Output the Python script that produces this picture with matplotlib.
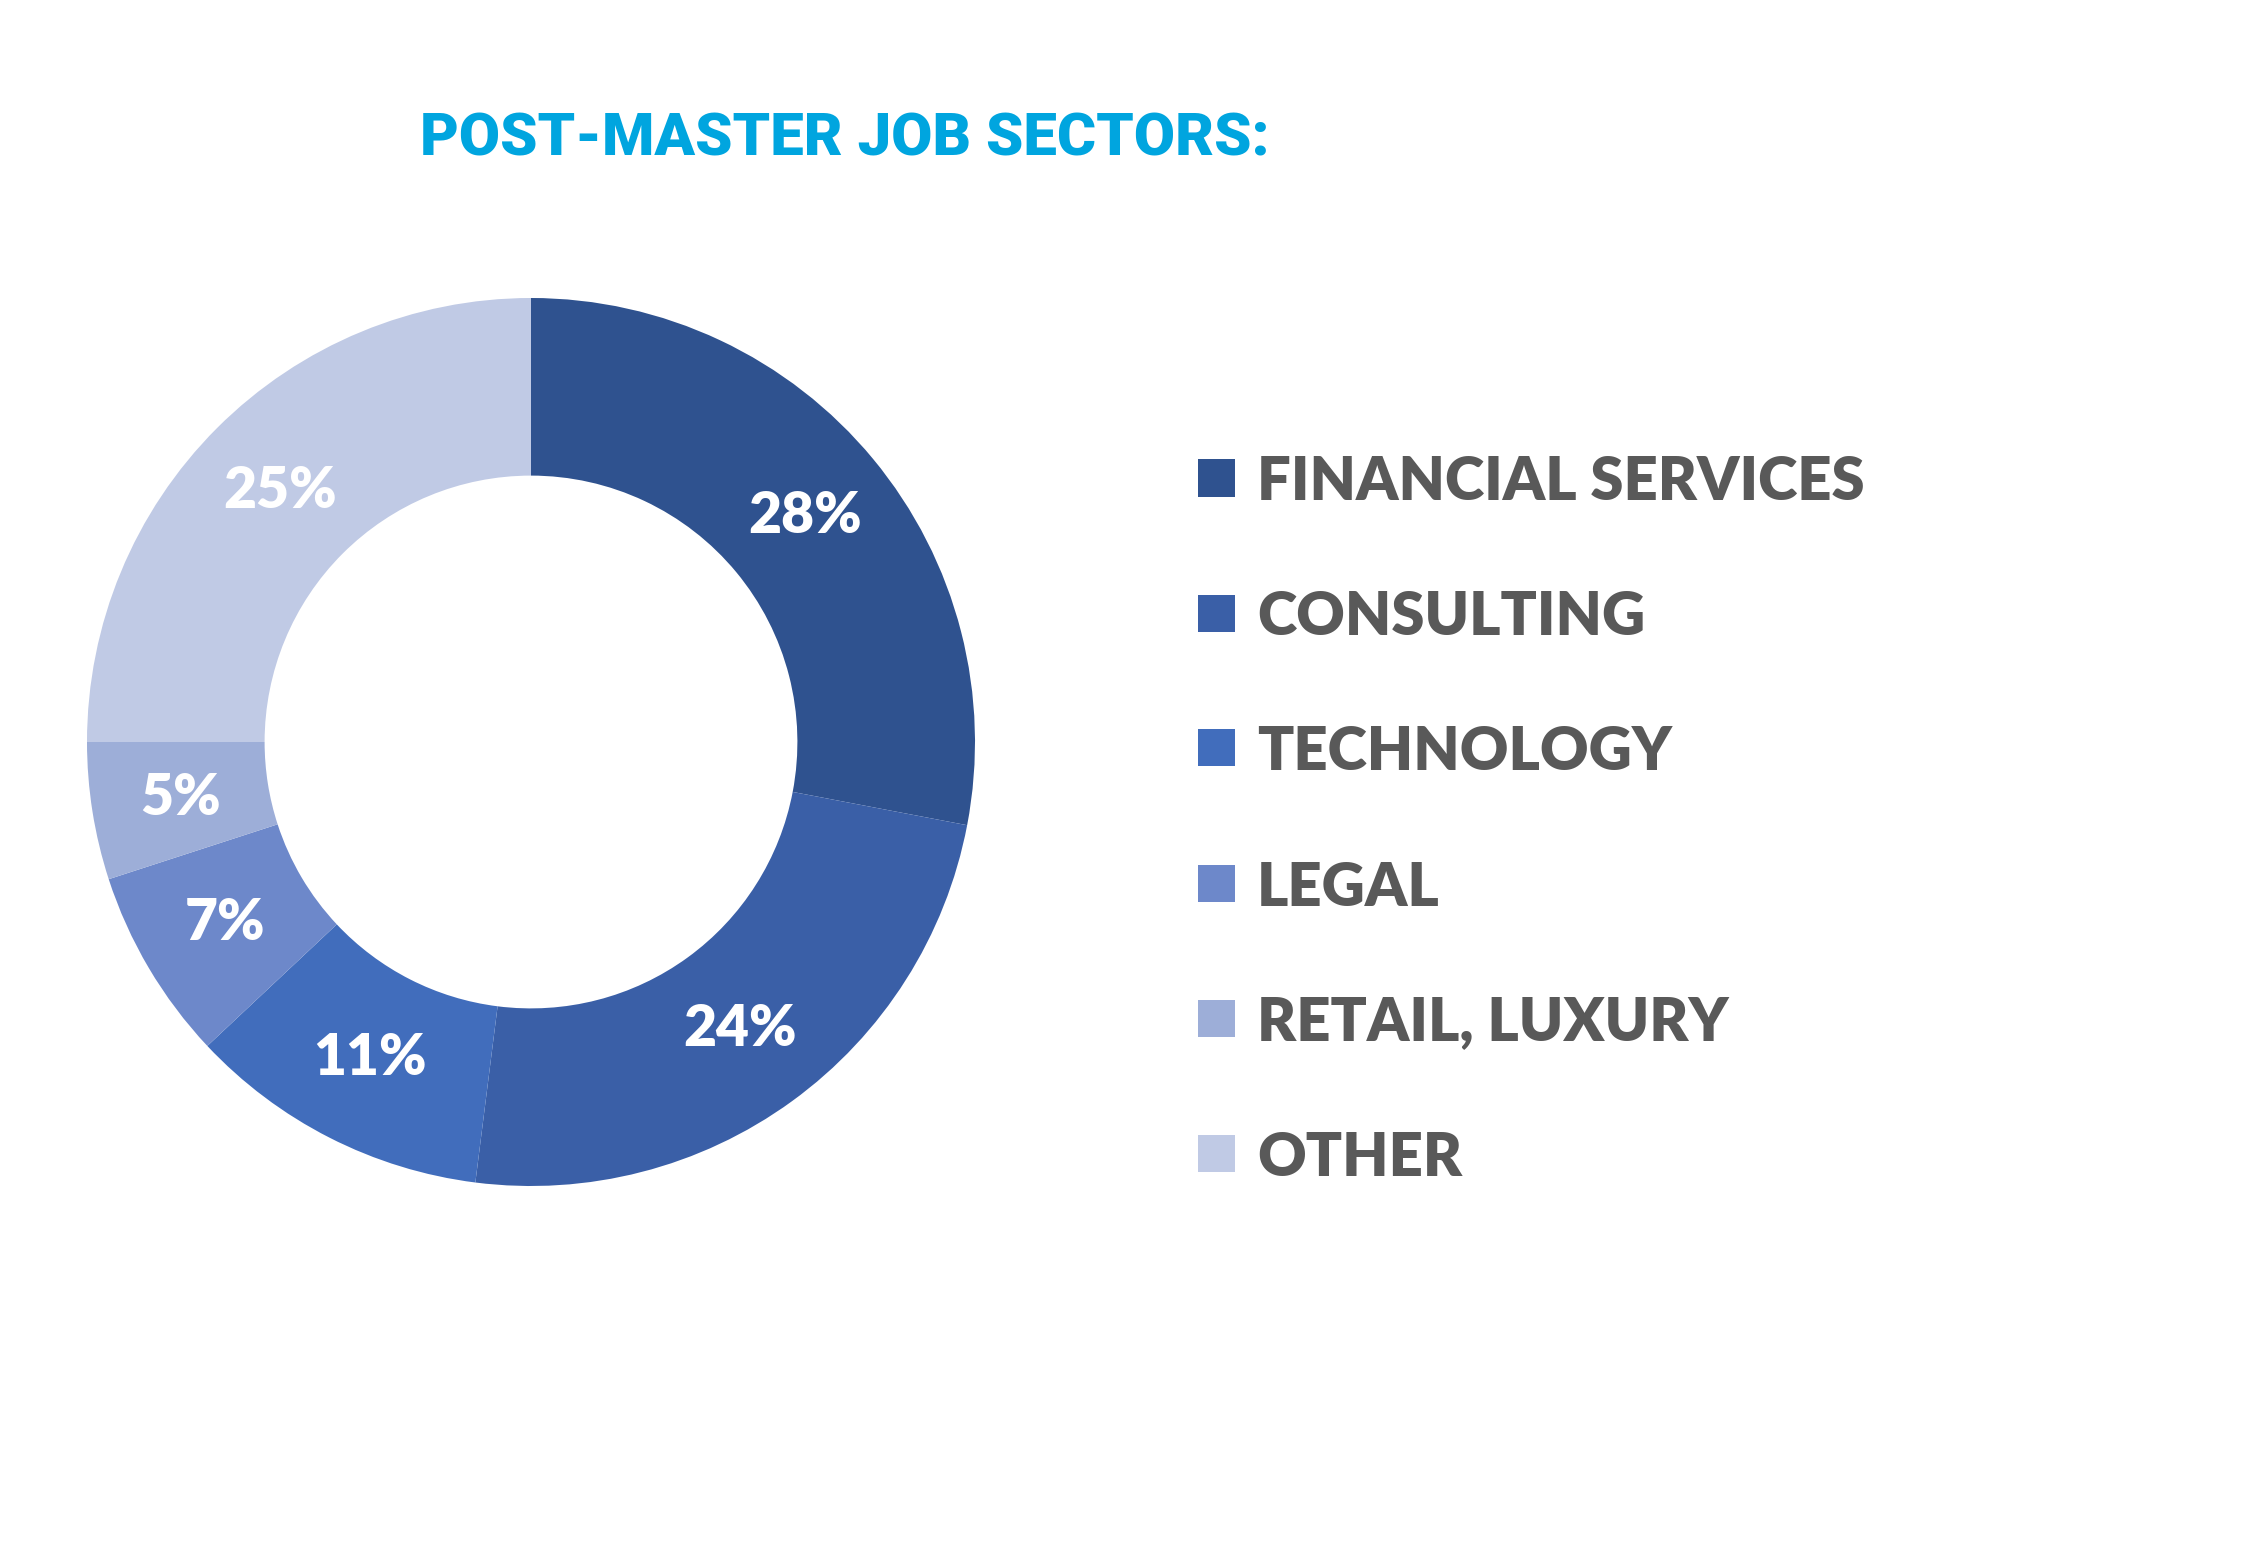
import matplotlib
matplotlib.use("Agg")
import matplotlib.pyplot as plt
from matplotlib.patches import Rectangle

# data
sectors = ["FINANCIAL SERVICES", "CONSULTING", "TECHNOLOGY", "LEGAL",
           "RETAIL, LUXURY", "OTHER"]
shares = [28, 24, 11, 7, 5, 25]
colors = ["#2F528F", "#3A5FA7", "#416DBC", "#6D88CA", "#9DAED8", "#C0CAE5"]
title = "POST-MASTER JOB SECTORS:"

W, H = 2250, 1558
fig = plt.figure(figsize=(W / 100, H / 100), dpi=100)
fig.patch.set_facecolor("white")

# donut axes: center (531, 742) px, radius 444 px
cx, cy, r = 531, 742, 444
ax = fig.add_axes([(cx - r) / W, (H - cy - r) / H, 2 * r / W, 2 * r / H])
wedges, texts, autotexts = ax.pie(
    shares, colors=colors, startangle=90, counterclock=False, radius=1,
    wedgeprops=dict(width=0.4, edgecolor="none"),
    autopct="%d%%", pctdistance=0.8,
    textprops=dict(color="white", fontsize=41, fontweight="heavy", family="Lato"))
ax.set_xlim(-1, 1)
ax.set_ylim(-1, 1)
ax.set_aspect("equal")
ax.axis("off")

# title
fig.text(845 / W, 1 - 140 / H, title, ha="center", va="center",
         color="#00A5DF", fontsize=43, fontweight="black", family="Roboto")

# legend
y0, dy = 478, 135
sq = 37
for i, (name, col) in enumerate(zip(sectors, colors)):
    y = y0 + i * dy
    fig.patches.append(Rectangle(((1198) / W, 1 - (y + sq / 2) / H), sq / W, sq / H,
                                 transform=fig.transFigure, facecolor=col,
                                 edgecolor="none"))
    fig.text(1257 / W, 1 - y / H, name, ha="left", va="center_baseline",
             color="#595959", fontsize=43, fontweight="heavy", family="Lato")

fig.savefig("out.png", dpi=100, facecolor="white")
